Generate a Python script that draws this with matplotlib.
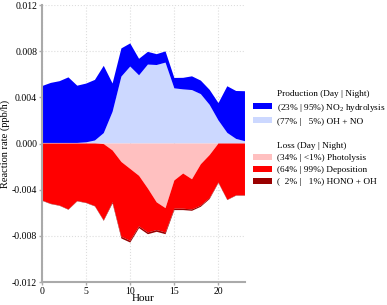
import numpy as np
import matplotlib
matplotlib.use("Agg")
import matplotlib.pyplot as plt
from matplotlib.patches import Patch

plt.rcParams['font.family'] = ['Liberation Serif', 'DejaVu Serif']
plt.rcParams['mathtext.fontset'] = 'custom'
plt.rcParams['mathtext.rm'] = 'Liberation Serif'

hours = np.arange(24)

# Production terms (ppb/h)
oh_no = [0.00005, 0.00005, 0.00005, 0.00005, 0.00005, 0.0001, 0.00026, 0.0009,
         0.00275, 0.0058, 0.00667, 0.00591, 0.00684, 0.0068, 0.00701, 0.00478,
         0.00469, 0.00463, 0.00428, 0.00335, 0.002, 0.00092, 0.0004, 0.0002]
no2_hydrolysis = [0.00492, 0.0052, 0.00535, 0.00568, 0.00496, 0.00509, 0.00525, 0.00583,
                  0.00245, 0.00244, 0.002, 0.00143, 0.0011, 0.00094, 0.00097, 0.0009,
                  0.001, 0.00119, 0.00117, 0.0013, 0.0015, 0.00404, 0.00415, 0.00433]

# Loss terms (ppb/h, magnitudes)
photolysis = [0, 0, 0, 0, 0, 0, 0, 0.00005, 0.0006, 0.0016, 0.0022, 0.0028,
              0.0039, 0.0051, 0.0056, 0.0032, 0.0026, 0.0031, 0.0018, 0.001, 0.0, 0, 0, 0]
deposition = [0.00493, 0.00522, 0.00537, 0.00571, 0.00498, 0.00513, 0.00542, 0.0066,
              0.00449, 0.00648, 0.00623, 0.00438, 0.00381, 0.0024, 0.00211, 0.00245,
              0.00305, 0.00261, 0.00358, 0.00373, 0.00337, 0.00487, 0.00449, 0.00449]
hono_oh = [0.00003, 0.00003, 0.00003, 0.00003, 0.00003, 0.00003, 0.00003, 0.00005,
           0.0001, 0.00015, 0.00015, 0.00015, 0.00015, 0.00015, 0.00015, 0.00012,
           0.00012, 0.00012, 0.0001, 0.00008, 0.00005, 0.00003, 0.00003, 0.00003]

labels = ["(23% | 95%) NO$_2$ hydrolysis", "(77% |   5%) OH + NO",
          "(34% | <1%) Photolysis", "(64% | 99%) Deposition", "(  2% |   1%) HONO + OH"]
colors = ["#0000ff", "#ccd8ff", "#ffc0c0", "#ff0000", "#990000"]

fig = plt.figure(figsize=(3.87, 3.05), dpi=100)
ax = fig.add_axes([0.1085, 0.0754, 0.5245, 0.9082])

ax.stackplot(hours, oh_no, no2_hydrolysis, colors=[colors[1], colors[0]], linewidth=0)
ax.stackplot(hours, -np.array(photolysis), -np.array(deposition), -np.array(hono_oh),
             colors=[colors[2], colors[3], colors[4]], linewidth=0)

ax.set_xlim(0, 23)
ax.set_ylim(-0.012, 0.012)
ax.set_xticks([0, 5, 10, 15, 20])
yt = [-0.012, -0.008, -0.004, 0.0, 0.004, 0.008, 0.012]
ax.set_yticks(yt)
ax.set_yticklabels([f"{v:.3f}" for v in yt])
ax.grid(True, color="#dddddd", linestyle=":", linewidth=0.8)
ax.set_axisbelow(True)
for s in ["top", "right"]:
    ax.spines[s].set_visible(False)
for s in ["left", "bottom"]:
    ax.spines[s].set_color("#aaaaaa")
    ax.spines[s].set_linewidth(1.5)
ax.tick_params(axis="both", labelsize=7, color="#aaaaaa", length=2, width=1, pad=1.5)
ax.set_xlabel("Hour", fontsize=8, labelpad=-1)
ax.set_ylabel("Reaction rate (ppb/h)", fontsize=7.5, labelpad=1.5)

blank = Patch(facecolor="none", edgecolor="none")
handles = [blank,
           Patch(facecolor=colors[0]), Patch(facecolor=colors[1]),
           blank, blank,
           Patch(facecolor=colors[2]), Patch(facecolor=colors[3]), Patch(facecolor=colors[4])]
leg_labels = ["Production (Day | Night)", labels[0], labels[1], "",
              "Loss (Day | Night)", labels[2], labels[3], labels[4]]
fig.legend(handles, leg_labels, loc="upper left", bbox_to_anchor=(0.654, 0.707),
           frameon=False, fontsize=6.7, handlelength=2.0, handleheight=0.6,
           handletextpad=0.6, labelspacing=0.42, borderpad=0, borderaxespad=0)

fig.savefig("out.png", dpi=100)
